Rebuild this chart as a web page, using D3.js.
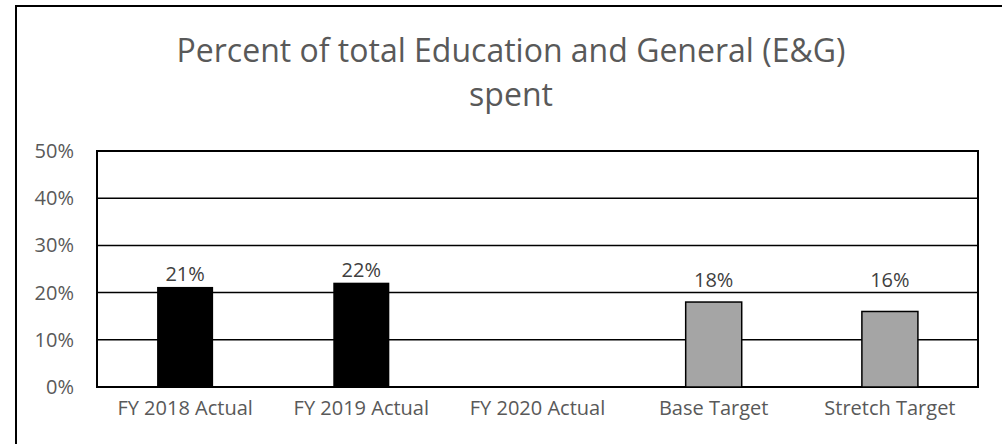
<!DOCTYPE html>
<html>
<head>
<meta charset="utf-8">
<script src="https://cdn.jsdelivr.net/npm/d3@7"></script>
<style>
  body { margin: 0; background: #fff; }
  svg { display: block; }
  text { font-family: "Open Sans", sans-serif; fill: #595959; }
</style>
</head>
<body>
<div id="chart"></div>
<script>
// chart data
const categories = ['FY 2018 Actual', 'FY 2019 Actual', 'FY 2020 Actual', 'Base Target', 'Stretch Target']
const values = [0.212, 0.221, null, 0.18, 0.16]
const barKinds = ['actual', 'actual', 'actual', 'target', 'target']
const yTicks = [0, 0.1, 0.2, 0.3, 0.4, 0.5]
const titleLines = ['Percent of total Education and General (E&G)', 'spent']

const width = 1002, height = 444
const plot = {left: 97, right: 978, top: 151, bottom: 387}

const svg = d3.select('#chart').append('svg')
    .attr('width', width)
    .attr('height', height)

// outer chart frame (runs off the right and bottom of the picture)
svg.append('rect')
    .attr('x', 16).attr('y', 6)
    .attr('width', 1000).attr('height', 450)
    .attr('fill', 'none')
    .attr('stroke', '#000')
    .attr('stroke-width', 2)

const x = d3.scaleBand()
    .domain(categories)
    .range([plot.left, plot.right])
    .paddingInner(0.682)
    .paddingOuter(0.341)

const y = d3.scaleLinear()
    .domain([0, 0.5])
    .range([plot.bottom, plot.top])

// title
svg.append('text')
    .attr('x', 511)
    .attr('y', 62)
    .attr('text-anchor', 'middle')
    .style('font-size', '32px')
    .selectAll('tspan')
    .data(titleLines)
    .join('tspan')
      .attr('x', 511)
      .attr('dy', (d, i) => i === 0 ? 0 : 44)
      .text(d => d)

// gridlines
svg.append('g')
  .selectAll('line')
  .data(yTicks)
  .join('line')
    .attr('x1', plot.left).attr('x2', plot.right)
    .attr('y1', d => y(d)).attr('y2', d => y(d))
    .attr('stroke', '#000')
    .attr('stroke-width', 1.5)

// plot frame
svg.append('rect')
    .attr('x', plot.left).attr('y', plot.top)
    .attr('width', plot.right - plot.left)
    .attr('height', plot.bottom - plot.top)
    .attr('fill', 'none')
    .attr('stroke', '#000')
    .attr('stroke-width', 2)

// y axis labels
const yAxis = d3.axisLeft(y)
    .tickValues(yTicks)
    .tickFormat(d3.format('.0%'))
    .tickSize(0)
    .tickPadding(23)

const yg = svg.append('g')
    .attr('transform', `translate(${plot.left},0)`)
    .call(yAxis)
yg.select('.domain').remove()
yg.selectAll('text')
    .style('font-size', '20px')
    .attr('font-family', null)

// x axis labels
const xAxis = d3.axisBottom(x).tickSize(0).tickPadding(14)
const xg = svg.append('g')
    .attr('transform', `translate(0,${plot.bottom})`)
    .call(xAxis)
xg.select('.domain').remove()
xg.selectAll('text')
    .style('font-size', '20px')
    .attr('font-family', null)

// bars
const bars = categories.map((c, i) => ({cat: c, v: values[i], kind: barKinds[i]}))
    .filter(d => d.v != null)

svg.append('g')
  .selectAll('rect')
  .data(bars)
  .join('rect')
    .attr('x', d => x(d.cat))
    .attr('width', x.bandwidth())
    .attr('y', d => y(d.v))
    .attr('height', d => y(0) - y(d.v))
    .attr('fill', d => d.kind === 'actual' ? '#000' : '#a5a5a5')
    .attr('stroke', '#000')
    .attr('stroke-width', d => d.kind === 'actual' ? 0 : 1.5)

// data labels, kept clear of the 20% gridline like the original
svg.append('g')
  .selectAll('text')
  .data(bars)
  .join('text')
    .attr('x', d => x(d.cat) + x.bandwidth() / 2)
    .attr('y', d => Math.min(y(d.v) - 6, y(0.2) - 6))
    .attr('text-anchor', 'middle')
    .style('font-size', '20px')
    .style('fill', '#404040')
    .text(d => d3.format('.0%')(d.v))
</script>
</body>
</html>
